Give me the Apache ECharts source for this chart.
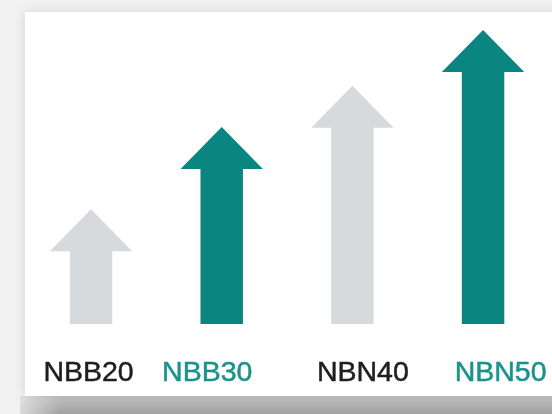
<!DOCTYPE html>
<html>
<head>
<meta charset="utf-8">
<script src="https://cdn.jsdelivr.net/npm/echarts@6/dist/echarts.min.js"></script>
<style>
  html, body { margin: 0; padding: 0; background: #f2f2f2; }
  #chart { width: 552px; height: 414px; }
</style>
</head>
<body>
<div id="chart"></div>
<script>
// ---- data ----
var categories = ['NBB20', 'NBB30', 'NBN40', 'NBN50'];
var values = [39, 67, 81, 100];
var arrowColors = ['#d7dadd', '#0b8580', '#d7dadd', '#0b8580'];
var labelColors = ['#1e1e1e', '#1a928c', '#1e1e1e', '#1a928c'];

var chart = echarts.init(document.getElementById('chart'), null, { renderer: 'canvas' });

function renderArrow(params, api) {
  var idx = api.value(0);
  var v = api.value(1);
  var tip = api.coord([idx, v]);
  var base = api.coord([idx, 0]);
  var band = api.size([1, 0])[0];
  var headW = band * 0.63;
  var shaftW = band * 0.325;
  var headH = 42;
  var cx = tip[0];
  var pts = [
    [cx, tip[1]],
    [cx + headW / 2, tip[1] + headH],
    [cx + shaftW / 2, tip[1] + headH],
    [cx + shaftW / 2, base[1]],
    [cx - shaftW / 2, base[1]],
    [cx - shaftW / 2, tip[1] + headH],
    [cx - headW / 2, tip[1] + headH]
  ];
  return {
    type: 'polygon',
    shape: { points: pts },
    style: { fill: arrowColors[idx] }
  };
}

// label styles (horizontal nudges via padding)
var labelRich = {};
var labelPad = [[0, 5, 0, 0], [0, 29, 0, 0], [0, 0, 0, 21], [0, 0, 0, 35]];
categories.forEach(function (c, i) {
  labelRich['l' + i] = {
    fontSize: 28.5,
    lineHeight: 28,
    fontFamily: 'Liberation Sans, Arial, sans-serif',
    color: labelColors[i],
    textBorderColor: labelColors[i],
    textBorderWidth: 0.5,
    padding: labelPad[i]
  };
});

chart.setOption({
  backgroundColor: '#f2f2f2',
  animation: false,
  graphic: [
    {
      type: 'rect', z: -10,
      shape: { x: 20, y: 396, width: 540, height: 20 },
      style: {
        fill: new echarts.graphic.LinearGradient(0, 0, 0, 1, [
          { offset: 0, color: '#c4c4c4' },
          { offset: 1, color: '#9e9e9e' }
        ])
      }
    },
    {
      type: 'rect', z: -9,
      shape: { x: 0, y: 396, width: 60, height: 20 },
      style: {
        fill: new echarts.graphic.LinearGradient(0, 0, 1, 0, [
          { offset: 0, color: 'rgba(242,242,242,1)' },
          { offset: 1, color: 'rgba(242,242,242,0)' }
        ])
      }
    },
    {
      type: 'rect', z: -8,
      shape: { x: 25, y: 12, width: 540, height: 384 },
      style: {
        fill: '#ffffff',
        shadowBlur: 10,
        shadowColor: 'rgba(0,0,0,0.12)'
      }
    }
  ],
  grid: { left: 25.7, right: 3.6, top: 30, bottom: 90 },
  xAxis: {
    type: 'category',
    data: categories,
    axisLine: { show: false },
    axisTick: { show: false },
    axisLabel: {
      margin: 35,
      interval: 0,
      formatter: function (value, index) { return '{l' + index + '|' + value + '}'; },
      rich: labelRich
    }
  },
  yAxis: {
    type: 'value',
    min: 0,
    max: 100,
    show: false
  },
  series: [{
    type: 'custom',
    renderItem: renderArrow,
    encode: { x: 0, y: 1 },
    data: values.map(function (v, i) { return [i, v]; })
  }]
});
</script>
</body>
</html>
